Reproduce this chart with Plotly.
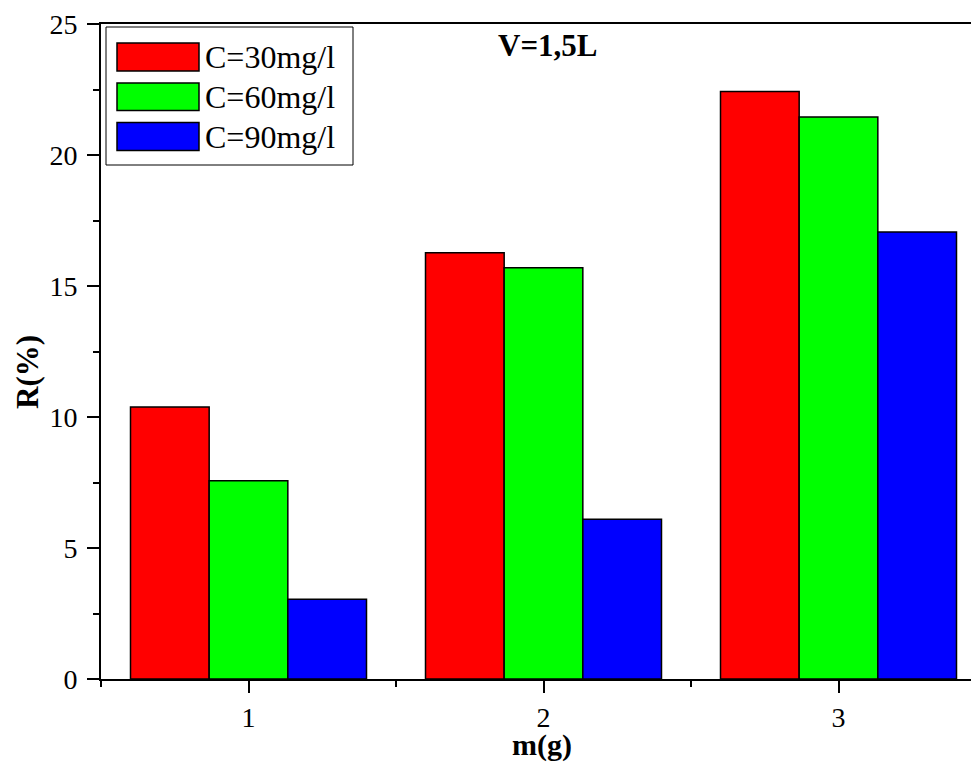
import plotly.graph_objects as go

masses = [1, 2, 3]
series_names = ["C=30mg/l", "C=60mg/l", "C=90mg/l"]
r_30 = [10.38, 16.27, 22.42]
r_60 = [7.57, 15.70, 21.45]
r_90 = [3.04, 6.10, 17.06]
colors = ["#FF0000", "#00FF00", "#0000FF"]

OFF = 8  # default page body margin
W, H = 979 - OFF, 765 - OFF
# plot area in page pixels: left 101, top 24, right 979, bottom 679
L, T = 101 - OFF, 24 - OFF
R = 0
B = H - (679 - OFF)
PW, PH = W - L - R, H - T - B

def px(x):
    return (x - 101) / PW

def py(y):
    return (679 - y) / PH

FONT = "Liberation Serif, Times New Roman, serif"

fig = go.Figure()
for name, vals, col in zip(series_names, [r_30, r_60, r_90], colors):
    fig.add_trace(go.Bar(
        x=masses, y=vals, name=name, showlegend=False,
        marker=dict(color=col, line=dict(color="black", width=1.5)),
    ))

axis_common = dict(
    showline=True, linecolor="black", linewidth=2,
    ticks="outside", ticklen=12, tickwidth=2, tickcolor="black",
    showgrid=False, zeroline=False,
    tickfont=dict(family=FONT, size=28, color="black"),
)

fig.update_xaxes(
    range=[0.5, 0.5 + PW / 295.0], tickvals=masses, mirror=True,
    ticklabelstandoff=0,
    minor=dict(ticks="outside", ticklen=6, tickwidth=2, tickcolor="black",
               tick0=0.5, dtick=0.5),
    **axis_common,
)
fig.update_yaxes(
    range=[0, 25], dtick=5, tick0=0, ticklabelstandoff=4,
    minor=dict(ticks="outside", ticklen=6, tickwidth=2, tickcolor="black",
               tick0=0, dtick=2.5),
    **axis_common,
)

shapes = []
annotations = []
# legend box
shapes.append(dict(type="rect", xref="paper", yref="paper",
                   x0=px(106), x1=px(353), y0=py(165), y1=py(27),
                   line=dict(color="black", width=1), fillcolor="white", layer="above"))
rows = [(43, 71), (83, 110.5), (122.5, 150.5)]
for (y0, y1), name, col in zip(rows, series_names, colors):
    shapes.append(dict(type="rect", xref="paper", yref="paper",
                       x0=px(117), x1=px(199), y0=py(y1), y1=py(y0),
                       line=dict(color="black", width=1.5), fillcolor=col, layer="above"))
    annotations.append(dict(xref="paper", yref="paper", x=px(203), y=py((y0 + y1) / 2),
                            xanchor="left", yanchor="middle", text=name, showarrow=False,
                            font=dict(family=FONT, size=32, color="black")))

annotations.append(dict(xref="paper", yref="paper", x=px(547), y=py(46),
                        xanchor="center", yanchor="middle", text="<b>V=1,5L</b>",
                        showarrow=False, font=dict(family=FONT, size=31, color="black")))
annotations.append(dict(xref="paper", yref="paper", x=px(542), y=py(745),
                        xanchor="center", yanchor="middle", text="<b>m(g)</b>",
                        showarrow=False, font=dict(family=FONT, size=30, color="black")))
annotations.append(dict(xref="paper", yref="paper", x=px(27), y=py(372),
                        xanchor="center", yanchor="middle", text="<b>R(%)</b>", textangle=-90,
                        showarrow=False, font=dict(family=FONT, size=31, color="black")))

fig.update_layout(
    width=W, height=H,
    margin=dict(l=L, r=R, t=T, b=B, pad=0),
    paper_bgcolor="white", plot_bgcolor="white",
    barmode="group", bargap=0.2, bargroupgap=0,
    shapes=shapes, annotations=annotations,
    showlegend=False,
)

fig.write_html("out.html")
